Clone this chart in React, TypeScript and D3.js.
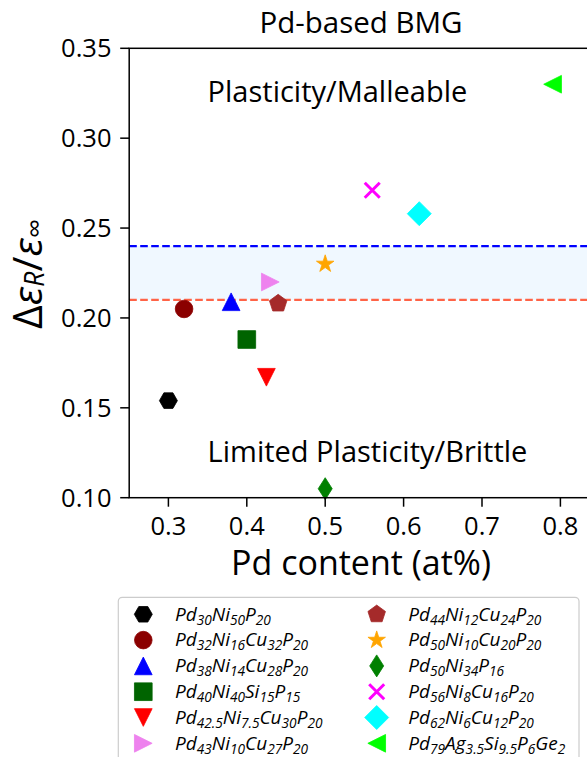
import React from "react";
import * as d3 from "d3";

// ---------- data ----------
const labels = [
  "Pd30Ni50P20",
  "Pd32Ni16Cu32P20",
  "Pd38Ni14Cu28P20",
  "Pd40Ni40Si15P15",
  "Pd42.5Ni7.5Cu30P20",
  "Pd43Ni10Cu27P20",
  "Pd44Ni12Cu24P20",
  "Pd50Ni10Cu20P20",
  "Pd50Ni34P16",
  "Pd56Ni8Cu16P20",
  "Pd62Ni6Cu12P20",
  "Pd79Ag3.5Si9.5P6Ge2",
];
const pdContent = [0.3, 0.32, 0.38, 0.4, 0.425, 0.43, 0.44, 0.5, 0.5, 0.56, 0.62, 0.79];
const strainRatio = [0.154, 0.205, 0.209, 0.188, 0.167, 0.22, 0.208, 0.23, 0.105, 0.271, 0.258, 0.33];
const colors = [
  "#000000", "#8B0000", "#0000FF", "#006400", "#FF0000", "#EE82EE",
  "#A52A2A", "#FFA500", "#008000", "#FF00FF", "#00FFFF", "#00FF00",
];
const markers = ["H", "o", "^", "s", "v", ">", "p", "*", "d", "x", "D", "<"];
const xTicks = [0.3, 0.4, 0.5, 0.6, 0.7, 0.8];
const yTicks = [0.1, 0.15, 0.2, 0.25, 0.3, 0.35];
const xDomain = [0.25, 0.84];
const yDomain = [0.1, 0.35];
const upperThreshold = 0.24;
const lowerThreshold = 0.21;
const regionTexts = ["Plasticity/Malleable", "Limited Plasticity/Brittle"];
const regionX = [0.35, 0.35];
const regionY = [0.32, 0.12];

// ---------- layout ----------
const W = 587;
const H = 757;
const left = 129.2;
const top = 48.3;
const bottom = 497.7;
const FONT = "'Open Sans', 'DejaVu Sans', sans-serif";

const x = d3.scaleLinear().domain(xDomain).range([left, left + (xDomain[1] - xDomain[0]) * 784]);
const y = d3.scaleLinear().domain(yDomain).range([bottom, top]);

const S = 17.7;

function poly(pts: number[][]): string {
  return "M" + pts.map((p) => p[0].toFixed(2) + "," + p[1].toFixed(2)).join("L") + "Z";
}

function markerPath(m: string): string {
  const h = S / 2;
  switch (m) {
    case "H":
      return poly(d3.range(6).map((i) => [9 * Math.cos((i * Math.PI) / 3), 9 * Math.sin((i * Math.PI) / 3)]));
    case "o":
      return d3.symbol(d3.symbolCircle, Math.PI * 8.8 * 8.8)() as string;
    case "^":
      return poly([[0, -h], [h, h], [-h, h]]);
    case "v":
      return poly([[0, h], [h, -h], [-h, -h]]);
    case ">":
      return poly([[h, 0], [-h, -h], [-h, h]]);
    case "<":
      return poly([[-h, 0], [h, -h], [h, h]]);
    case "s":
      return poly([[-h, -h], [h, -h], [h, h], [-h, h]]);
    case "p":
      return poly(d3.range(5).map((i) => {
        const a = -Math.PI / 2 + (i * 2 * Math.PI) / 5;
        return [9.2 * Math.cos(a), 9.2 * Math.sin(a)];
      }));
    case "*":
      return poly(d3.range(10).map((i) => {
        const a = -Math.PI / 2 + (i * Math.PI) / 5;
        const r = i % 2 === 0 ? 9.2 : 9.2 * 0.382;
        return [r * Math.cos(a), r * Math.sin(a)];
      }));
    case "d":
      return poly([[0, -11], [7, 0], [0, 11], [-7, 0]]);
    case "D":
      return poly([[0, -12], [12, 0], [0, 12], [-12, 0]]);
    case "x":
      return "M-7.5,-7.5L7.5,7.5M-7.5,7.5L7.5,-7.5";
    default:
      return "";
  }
}

function Marker({ m, color, cx, cy }: { m: string; color: string; cx: number; cy: number }) {
  const d = markerPath(m);
  if (m === "x") {
    return <path d={d} transform={`translate(${cx},${cy})`} fill="none" stroke={color} strokeWidth={3} />;
  }
  return <path d={d} transform={`translate(${cx},${cy})`} fill={color} stroke={color} strokeWidth={0.8} />;
}

function parseFormula(s: string): [string, string][] {
  const out: [string, string][] = [];
  const re = /([A-Z][a-z]*)([0-9.]+)/g;
  let mm: RegExpExecArray | null;
  while ((mm = re.exec(s)) !== null) out.push([mm[1], mm[2]]);
  return out;
}

function Formula({ text, tx, ty }: { text: string; tx: number; ty: number }) {
  const F = 19;
  const shift = 4;
  const parts = parseFormula(text);
  return (
    <text x={tx} y={ty} fontFamily={FONT} fontStyle="italic" fontSize={F} fill="#000">
      {parts.map(([el, n], i) => (
        <React.Fragment key={i}>
          <tspan dy={i === 0 ? 0 : -shift}>{el}</tspan>
          <tspan dy={shift} fontSize={F * 0.72}>{n}</tspan>
        </React.Fragment>
      ))}
    </text>
  );
}

export default function App() {
  const xr = x.range();
  const legendLeft = 118.3;
  const legendTop = 597.3;
  const rowY0 = 614.3;
  const rowStep = 25.8;
  const colMarkerX = [143.3, 376.7];
  const colTextX = [175, 408.3];

  return (
    <svg
      width={W}
      height={H}
      style={{ position: "absolute", left: 0, top: 0, background: "#fff" }}
      xmlns="http://www.w3.org/2000/svg"
    >
      <rect x={0} y={0} width={W} height={H} fill="#fff" />
      {/* band */}
      <rect
        x={xr[0]}
        y={y(upperThreshold)}
        width={xr[1] - xr[0]}
        height={y(lowerThreshold) - y(upperThreshold)}
        fill="#F0F8FF"
      />
      <line x1={xr[0]} x2={xr[1]} y1={y(upperThreshold)} y2={y(upperThreshold)} stroke="#0000FF" strokeWidth={2.2} strokeDasharray="7.6,3.4" />
      <line x1={xr[0]} x2={xr[1]} y1={y(lowerThreshold)} y2={y(lowerThreshold)} stroke="#FF6347" strokeWidth={2.2} strokeDasharray="7.6,3.4" />

      {/* region texts */}
      {regionTexts.map((t, i) => (
        <text key={t} x={x(regionX[i])} y={y(regionY[i])} fontFamily={FONT} fontSize={29} fill="#000">
          {t}
        </text>
      ))}

      {/* points */}
      {pdContent.map((v, i) => (
        <Marker key={i} m={markers[i]} color={colors[i]} cx={x(v)} cy={y(strainRatio[i])} />
      ))}

      {/* spines */}
      <rect x={xr[0]} y={top} width={xr[1] - xr[0]} height={bottom - top} fill="none" stroke="#000" strokeWidth={1.5} />

      {/* y ticks */}
      {yTicks.map((t) => (
        <g key={t}>
          <line x1={left - 9} x2={left} y1={y(t)} y2={y(t)} stroke="#000" strokeWidth={1.5} />
          <text x={111.5} y={y(t) + 9} textAnchor="end" fontFamily={FONT} fontSize={25.5} fill="#000">
            {d3.format(".2f")(t)}
          </text>
        </g>
      ))}
      {/* x ticks */}
      {xTicks.map((t) => (
        <g key={t}>
          <line x1={x(t)} x2={x(t)} y1={bottom} y2={bottom + 9} stroke="#000" strokeWidth={1.5} />
          <text x={x(t)} y={534.5} textAnchor="middle" fontFamily={FONT} fontSize={25.5} fill="#000">
            {d3.format(".1f")(t)}
          </text>
        </g>
      ))}

      {/* title */}
      <text x={361} y={33.3} textAnchor="middle" fontFamily={FONT} fontSize={29.5} fill="#000">
        Pd-based BMG
      </text>
      {/* x label */}
      <text x={361} y={575} textAnchor="middle" fontFamily={FONT} fontSize={34} fill="#000">
        Pd content (at%)
      </text>
      {/* y label */}
      <text
        transform={`translate(41.5,${(top + bottom) / 2 + 1}) rotate(-90)`}
        textAnchor="middle"
        fontFamily={FONT}
        fontSize={41}
        fill="#000"
      >
        <tspan>Δ</tspan>
        <tspan fontStyle="italic">ε</tspan>
        <tspan fontStyle="italic" fontSize={27} dy={2}>R</tspan>
        <tspan dy={-2}>/</tspan>
        <tspan fontStyle="italic">ε</tspan>
        <tspan fontSize={27} dy={2}>∞</tspan>
      </text>

      {/* legend */}
      <rect
        x={legendLeft}
        y={legendTop}
        width={579 - legendLeft}
        height={170}
        rx={4}
        ry={4}
        fill="#fff"
        fillOpacity={0.8}
        stroke="#CCCCCC"
        strokeWidth={1.2}
      />
      {labels.map((lab, i) => {
        const col = i < 6 ? 0 : 1;
        const row = i % 6;
        const cy = rowY0 + row * rowStep;
        return (
          <g key={lab}>
            <Marker m={markers[i]} color={colors[i]} cx={colMarkerX[col]} cy={cy} />
            <Formula text={lab} tx={colTextX[col]} ty={cy + 6.3} />
          </g>
        );
      })}
    </svg>
  );
}
